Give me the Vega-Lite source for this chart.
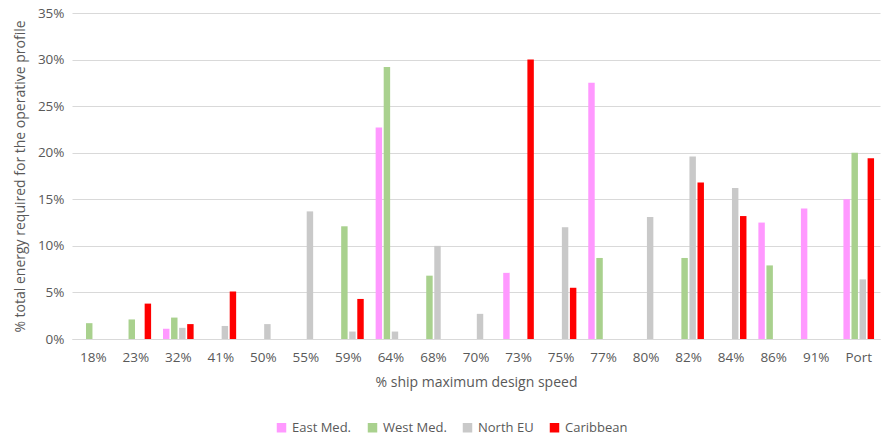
{
  "$schema": "https://vega.github.io/schema/vega-lite/v6.json",
  "width": 808,
  "height": 326,
  "autosize": {"type": "none"},
  "padding": {"left": 72, "top": 13, "right": 7, "bottom": 98},
  "background": "white",
  "config": {
    "view": {"stroke": null},
    "font": "Open Sans",
    "axis": {"labelColor": "#595959", "titleColor": "#595959", "labelFont": "Open Sans", "titleFont": "Open Sans", "titleFontWeight": "normal"}
  },
  "data": {
    "values": [
      {"speed": "18%", "region": "West Med.", "value": 1.7},
      {"speed": "23%", "region": "West Med.", "value": 2.1},
      {"speed": "23%", "region": "Caribbean", "value": 3.8},
      {"speed": "32%", "region": "East Med.", "value": 1.1},
      {"speed": "32%", "region": "West Med.", "value": 2.3},
      {"speed": "32%", "region": "North EU", "value": 1.2},
      {"speed": "32%", "region": "Caribbean", "value": 1.6},
      {"speed": "41%", "region": "North EU", "value": 1.4},
      {"speed": "41%", "region": "Caribbean", "value": 5.1},
      {"speed": "50%", "region": "North EU", "value": 1.6},
      {"speed": "55%", "region": "North EU", "value": 13.7},
      {"speed": "59%", "region": "West Med.", "value": 12.1},
      {"speed": "59%", "region": "North EU", "value": 0.8},
      {"speed": "59%", "region": "Caribbean", "value": 4.3},
      {"speed": "64%", "region": "East Med.", "value": 22.7},
      {"speed": "64%", "region": "West Med.", "value": 29.2},
      {"speed": "64%", "region": "North EU", "value": 0.8},
      {"speed": "68%", "region": "West Med.", "value": 6.8},
      {"speed": "68%", "region": "North EU", "value": 10.0},
      {"speed": "70%", "region": "North EU", "value": 2.7},
      {"speed": "73%", "region": "East Med.", "value": 7.1},
      {"speed": "73%", "region": "Caribbean", "value": 30.0},
      {"speed": "75%", "region": "North EU", "value": 12.0},
      {"speed": "75%", "region": "Caribbean", "value": 5.5},
      {"speed": "77%", "region": "East Med.", "value": 27.5},
      {"speed": "77%", "region": "West Med.", "value": 8.7},
      {"speed": "80%", "region": "North EU", "value": 13.1},
      {"speed": "82%", "region": "West Med.", "value": 8.7},
      {"speed": "82%", "region": "North EU", "value": 19.6},
      {"speed": "82%", "region": "Caribbean", "value": 16.8},
      {"speed": "84%", "region": "North EU", "value": 16.2},
      {"speed": "84%", "region": "Caribbean", "value": 13.2},
      {"speed": "86%", "region": "East Med.", "value": 12.5},
      {"speed": "86%", "region": "West Med.", "value": 7.9},
      {"speed": "91%", "region": "East Med.", "value": 14.0},
      {"speed": "Port", "region": "East Med.", "value": 15.0},
      {"speed": "Port", "region": "West Med.", "value": 20.0},
      {"speed": "Port", "region": "North EU", "value": 6.4},
      {"speed": "Port", "region": "Caribbean", "value": 19.4}
    ]
  },
  "mark": {"type": "bar"},
  "encoding": {
    "x": {
      "field": "speed", "type": "nominal",
      "sort": ["18%","23%","32%","41%","50%","55%","59%","64%","68%","70%","73%","75%","77%","80%","82%","84%","86%","91%","Port"],
      "scale": {"paddingInner": 0.28, "paddingOuter": 0.14},
      "axis": {"labelAngle": 0, "title": "% ship maximum design speed", "labelFontSize": 13.5, "titleFontSize": 14, "ticks": false, "domainColor": "#D9D9D9", "labelPadding": 11, "titlePadding": 12}
    },
    "xOffset": {
      "field": "region", "type": "nominal",
      "scale": {"domain": ["East Med.", "West Med.", "North EU", "Caribbean"], "paddingInner": 0.2}
    },
    "y": {
      "field": "value", "type": "quantitative",
      "scale": {"domain": [0, 35]},
      "axis": {"values": [0,5,10,15,20,25,30,35], "labelExpr": "datum.value + '%'", "title": "% total energy required for the operative profile", "labelFontSize": 13.5, "titleFontSize": 14, "ticks": false, "domain": false, "gridColor": "#D9D9D9", "labelPadding": 8, "titlePadding": 10}
    },
    "color": {
      "field": "region", "type": "nominal",
      "scale": {"domain": ["East Med.", "West Med.", "North EU", "Caribbean"], "range": ["#FF99FF", "#A9D18E", "#C9C9C9", "#FF0000"]},
      "legend": {"orient": "none", "legendX": 203, "legendY": 408, "direction": "horizontal", "title": null, "symbolType": "square", "symbolSize": 90, "labelFontSize": 13, "labelColor": "#595959", "labelFont": "Open Sans", "columnPadding": 14, "symbolStrokeWidth": 0}
    }
  }
}
